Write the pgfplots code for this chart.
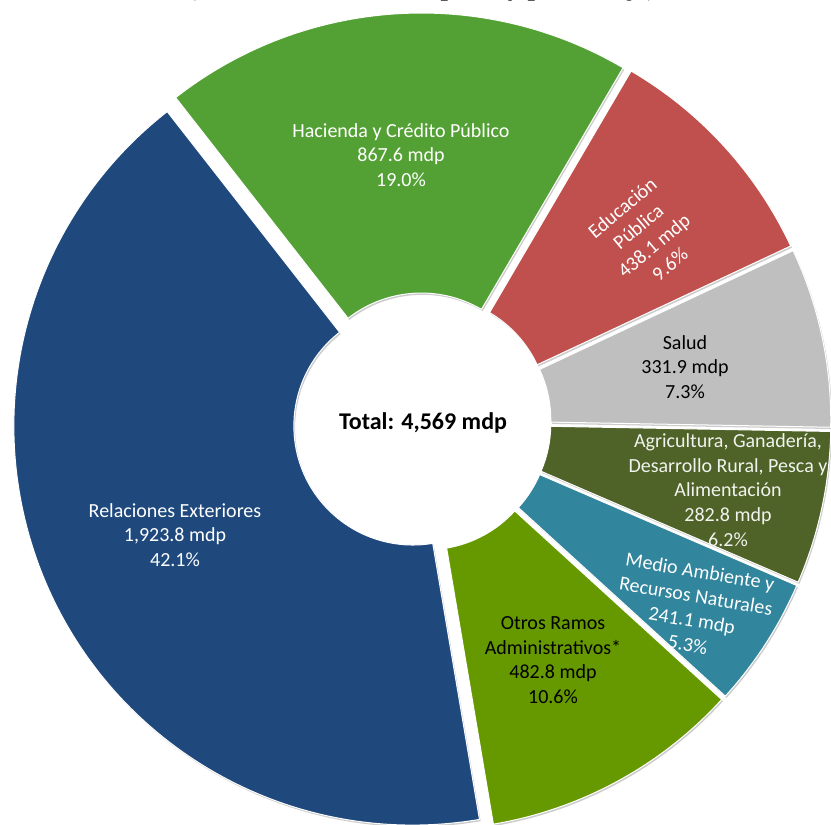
\documentclass[border=0pt]{standalone}
\usepackage{pgfplots}
\pgfplotsset{compat=1.18}
\usepackage{pgfplotstable}
\usepackage{fontspec}
\setmainfont{Carlito}
\newfontfamily\titlefont{Liberation Serif}

% colores de los ramos (en el orden de la tabla)
\definecolor{c0}{RGB}{83,161,52}   % Hacienda
\definecolor{c1}{RGB}{192,80,77}   % Educacion
\definecolor{c2}{RGB}{191,191,191} % Salud
\definecolor{c3}{RGB}{79,98,40}    % Agricultura
\definecolor{c4}{RGB}{49,133,156}  % Medio Ambiente
\definecolor{c5}{RGB}{102,153,0}   % Otros
\definecolor{c6}{RGB}{31,73,125}   % Relaciones Exteriores

\pgfplotstableread{
ramo valor
Hacienda 867.6
Educacion 438.1
Salud 331.9
Agricultura 282.8
MedioAmbiente 241.1
Otros 482.8
Relaciones 1923.8
}\datos

% total y angulos de cada rebanada (sentido horario desde 128 grados)
\xdef\total{0}
\foreach \i in {0,...,6}{%
  \pgfplotstablegetelem{\i}{valor}\of\datos
  \pgfmathparse{\total+\pgfplotsretval}%
  \xdef\total{\pgfmathresult}}
\xdef\ang{128}
\foreach \i in {0,...,6}{%
  \pgfplotstablegetelem{\i}{valor}\of\datos
  \pgfmathsetmacro\aFin{\ang-\pgfplotsretval/\total*360}%
  \pgfmathsetmacro\aMid{(\ang+\aFin)/2}%
  \expandafter\xdef\csname ini\i\endcsname{\ang}%
  \expandafter\xdef\csname fin\i\endcsname{\aFin}%
  \expandafter\xdef\csname mid\i\endcsname{\aMid}%
  \xdef\ang{\aFin}}

\newcommand\etq{\fontsize{20}{24.6}\selectfont}

\begin{document}
\begin{tikzpicture}
\useasboundingbox (0,0) rectangle (831pt,825pt);
\begin{axis}[
    x=1pt, y=1pt,
    xmin=0, xmax=831, ymin=0, ymax=825,
    hide axis,
    anchor=south west, at={(0,0)},
    clip=true,
]
\pgfplotsinvokeforeach{0,...,6}{
  \coordinate (P#1) at ([shift={(\csname mid#1\endcsname:10pt)}]axis cs:422,403);
  \fill[fill=c#1, draw=white, line width=1pt,
        preaction={fill=black, fill opacity=0.2, draw=none,
                   transform canvas={xshift=1.2pt, yshift=-1.8pt}}]
    ([shift={(\csname ini#1\endcsname:399pt)}]P#1)
    arc[start angle=\csname ini#1\endcsname, end angle=\csname fin#1\endcsname, radius=399pt]
    -- ([shift={(\csname fin#1\endcsname:119pt)}]P#1)
    arc[start angle=\csname fin#1\endcsname, end angle=\csname ini#1\endcsname, radius=119pt]
    -- cycle;
}

% titulo (cortado en el borde superior)
\node[anchor=base, font=\titlefont\bfseries\fontsize{26.5}{30}\selectfont]
  at (axis cs:422,829.5) {(Cifras en millones de pesos y porcentaje)};

\node[font=\bfseries\fontsize{24}{28}\selectfont] at (axis cs:423,402) {Total: 4,569 mdp};

\node[align=center, text=white, font=\etq] at (axis cs:401,670)
  {Hacienda y Crédito Público\\867.6 mdp\\19.0\%};
\node[align=center, text=white, font=\etq, rotate=40] at (axis cs:646,589)
  {Educación\\Pública\\438.1 mdp\\9.6\%};
\node[align=center, text=black, font=\etq] at (axis cs:685,458)
  {Salud\\331.9 mdp\\7.3\%};
\node[align=center, text=white!92!c3, font=\etq] at (axis cs:728,335)
  {Agricultura, Ganadería,\\Desarrollo Rural, Pesca y\\Alimentación\\282.8 mdp\\6.2\%};
\node[align=center, text=white, font=\etq, rotate=-9.5] at (axis cs:694,217)
  {Medio Ambiente y\\Recursos Naturales\\241.1 mdp\\5.3\%};
\node[align=center, text=black, font=\etq] at (axis cs:553,165)
  {Otros Ramos\\Administrativos*\\482.8 mdp\\10.6\%};
\node[align=center, text=white, font=\etq] at (axis cs:175,290)
  {Relaciones Exteriores\\1,923.8 mdp\\42.1\%};
\end{axis}
\end{tikzpicture}
\end{document}
